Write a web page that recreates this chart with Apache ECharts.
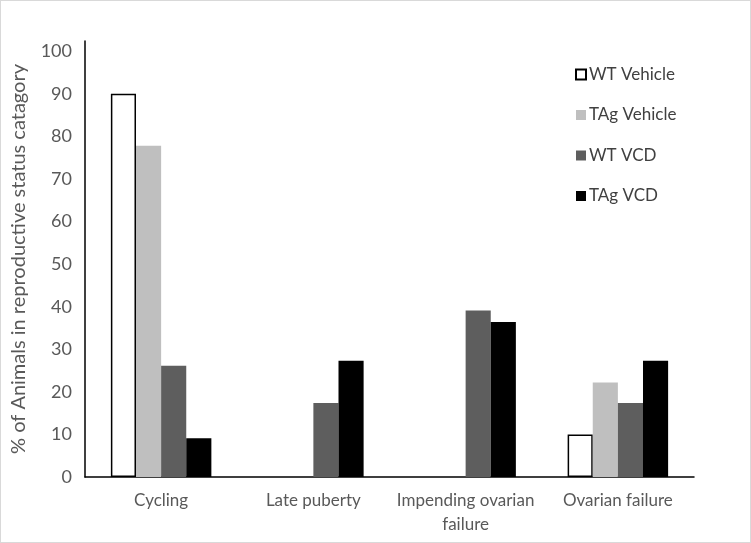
<!DOCTYPE html>
<html>
<head>
<meta charset="utf-8">
<script src="https://cdn.jsdelivr.net/npm/echarts@6/dist/echarts.min.js"></script>
<style>
html,body{margin:0;padding:0;background:#fff;}
#c{width:749px;height:541px;border:1px solid #d9d9d9;}
</style>
</head>
<body>
<div id="c"></div>
<script>
const categories = ['Cycling', 'Late puberty', 'Impending ovarian\nfailure', 'Ovarian failure'];
const seriesNames = ['WT Vehicle', 'TAg Vehicle', 'WT VCD', 'TAg VCD'];
const wtVehicle = [90, 0, 0, 10];
const tagVehicle = [77.8, 0, 0, 22.2];
const wtVcd = [26.1, 17.4, 39.1, 17.4];
const tagVcd = [9.1, 27.3, 36.4, 27.3];
const yTicks = [0, 10, 20, 30, 40, 50, 60, 70, 80, 90, 100];

const font = 'Lato, "Open Sans", sans-serif';
const chart = echarts.init(document.getElementById('c'));
const styles = [
  {color: '#ffffff', borderColor: '#000000', borderWidth: 1.5},
  {color: '#bfbfbf'},
  {color: '#5e5e5e'},
  {color: '#000000'}
];
const datas = [wtVehicle, tagVehicle, wtVcd, tagVcd];
chart.setOption({
  animation: false,
  grid: {left: 84, right: 56, top: 40, bottom: 65, containLabel: false},
  legend: {
    orient: 'vertical', left: 569, top: 60, itemGap: 23.5,
    itemWidth: 10, itemHeight: 10, icon: 'rect',
    textStyle: {fontFamily: font, fontSize: 17, color: '#404040', padding: [0, 0, 0, -2]},
    data: seriesNames
  },
  xAxis: {
    type: 'category', data: categories,
    axisLine: {lineStyle: {color: '#000', width: 1.5}},
    axisTick: {show: false},
    axisLabel: {fontFamily: font, fontSize: 17, color: '#595959', margin: 12, lineHeight: 24, interval: 0}
  },
  yAxis: {
    type: 'value', min: 0, max: 102.4, interval: 10,
    splitLine: {show: false},
    axisLine: {show: true, lineStyle: {color: '#000', width: 1.5}},
    axisTick: {show: false},
    axisLabel: {fontFamily: font, fontSize: 18, color: '#595959', margin: 13, showMaxLabel: false,
      formatter: v => yTicks.includes(v) ? String(v) : ''},
    name: '% of Animals in reproductive status catagory',
    nameLocation: 'middle', nameGap: 56, nameRotate: 90,
    nameTextStyle: {fontFamily: font, fontSize: 20, color: '#595959'}
  },
  series: seriesNames.map((n, i) => ({
    name: n, type: 'bar', data: datas[i].map(v => v === 0 ? null : v),
    barGap: '0%', barCategoryGap: '34%',
    itemStyle: styles[i]
  }))
});
</script>
</body>
</html>
